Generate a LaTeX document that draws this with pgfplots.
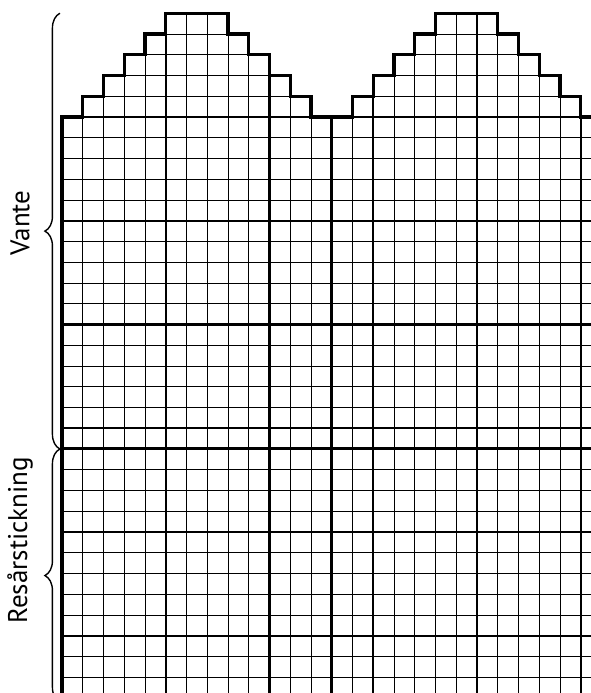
\documentclass[border=0pt]{standalone}
\usepackage{fontspec}
\setmainfont{PT Sans}
\usepackage{pgfplots}
\pgfplotsset{compat=1.18}
\usetikzlibrary{decorations.pathreplacing}
\begin{document}
\begin{tikzpicture}
\path[use as bounding box] (0,0) rectangle (591bp,693bp);
\begin{axis}[
  at={(62bp,576bp)}, anchor=origin,
  x=20.75bp, y=20.75bp,
  xmin=0, xmax=25.494, ymin=-27.76, ymax=5.639,
  clip=false,
  axis line style={draw=none},
  tick style={draw=none},
  major tick length=0pt, minor tick length=0pt,
  xticklabels={}, yticklabels={},
  xtick={0,5,...,25}, minor xtick={1,2,...,25},
  ytick={-25,-20,...,5}, minor ytick={-27,-26,...,4},
  extra x ticks={13}, extra y ticks={-16},
  extra x tick labels={}, extra y tick labels={},
  extra tick style={grid=major, major grid style={black, line width=3bp}, tick style={draw=none}},
  grid=both,
  major grid style={black, line width=2.2bp},
  minor grid style={black, line width=0.9bp},
]
% white mask above the mitten tops
\addplot[fill=white, draw=none] coordinates {
  (-0.3,0)(1,0)(1,1)(2,1)(2,2)(3,2)(3,3)(4,3)(4,4)(5,4)(5,5)(8,5)(8,4)(9,4)(9,3)(10,3)(10,2)(11,2)(11,1)(12,1)(12,0)
  (14,0)(14,1)(15,1)(15,2)(16,2)(16,3)(17,3)(17,4)(18,4)(18,5)(21,5)(21,4)(22,4)(22,3)(23,3)(23,2)(24,2)(24,1)(25,1)(25,0)
  (25.8,0)(25.8,6)(-0.3,6)};
% outline
\addplot[black, line width=3.2bp, line join=miter] coordinates {
  (0,-27.9)(0,0)(1,0)(1,1)(2,1)(2,2)(3,2)(3,3)(4,3)(4,4)(5,4)(5,5)(8,5)(8,4)(9,4)(9,3)(10,3)(10,2)(11,2)(11,1)(12,1)(12,0)
  (14,0)(14,1)(15,1)(15,2)(16,2)(16,3)(17,3)(17,4)(18,4)(18,5)(21,5)(21,4)(22,4)(22,3)(23,3)(23,2)(24,2)(24,1)(25,1)(25,0)
  (25.6,0)};
\draw[decorate, decoration={brace, amplitude=15bp}, line width=1.4bp] (axis cs:-0.1,-16) -- (axis cs:-0.1,5);
\draw[decorate, decoration={brace, amplitude=15bp}, line width=1.4bp] (axis cs:-0.1,-28.2) -- (axis cs:-0.1,-16);
\node[rotate=90, font=\fontsize{27bp}{32bp}\selectfont] at (axis cs:-2.02,-5.1) {Vante};
\node[rotate=90, font=\fontsize{27bp}{32bp}\selectfont] at (axis cs:-2.02,-20.4) {Resårstickning};
\end{axis}
\end{tikzpicture}
\end{document}
